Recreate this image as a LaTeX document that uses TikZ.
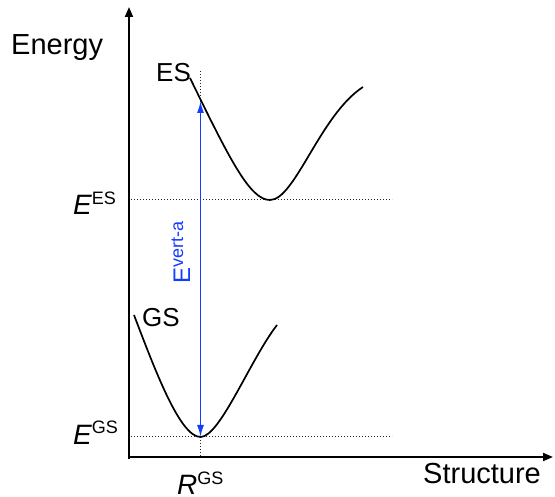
\documentclass[tikz,border=0pt]{standalone}
\usepackage{fontspec}
\setmainfont{Liberation Sans}
\usetikzlibrary{arrows.meta}
\definecolor{vblue}{RGB}{20,60,255}
\begin{document}
\begin{tikzpicture}[x=1pt,y=-1pt,
  lbl/.style={inner sep=0pt,anchor=base west,font=\fontsize{29}{34}\selectfont},
  slbl/.style={inner sep=0pt,anchor=base west,font=\fontsize{26}{30}\selectfont},
  axisline/.style={line width=1.9pt,-{Triangle[length=10pt,width=8pt]}},
  pes/.style={line width=1.7pt},
  guide/.style={line width=1pt,dash pattern=on 1pt off 2pt,black!85},
  vert/.style={line width=1.6pt,vblue,{Latex[length=12pt,width=7pt]}-{Latex[length=12pt,width=7pt]}}]
\useasboundingbox (0,0) rectangle (555,497);
% coordinates
\coordinate (O) at (129,458);
\coordinate (ytop) at (129,7);
\coordinate (xend) at (553,457);
\coordinate (esL) at (190,78);
\coordinate (esMin) at (270,200);
\coordinate (esR) at (363,87);
\coordinate (gsL) at (134,315);
\coordinate (gsMin) at (200.5,437);
\coordinate (gsR) at (277,325);
\coordinate (vTop) at (200.5,71);
\coordinate (vUp) at (200.5,101);
\coordinate (vBot) at (200.5,457);
\coordinate (esDotL) at (131,200);
\coordinate (esDotR) at (392,200);
\coordinate (gsDotL) at (131,437);
\coordinate (gsDotR) at (392,437);
% guides
\draw[guide] (esDotL) -- (esDotR);
\draw[guide] (gsDotL) -- (gsDotR);
\draw[guide] (vTop) -- (vBot);
% axes
\draw[axisline] (O |- 0,459) -- (ytop);
\draw[axisline] (O |- xend) -- (xend);
% curves
\draw[pes] (esL) .. controls (230,160) and (250,200) .. (esMin)
  .. controls (295,200) and (320,115) .. (esR);
\draw[pes] (gsL) .. controls (155,370) and (180,437) .. (gsMin)
  .. controls (220,437) and (250,360) .. (gsR);
% vertical excitation
\draw[vert] (gsMin) -- (vUp);
% labels
\node[lbl] (energy) at (11,55) {Energy};
\node[lbl] (structure) at (423,483) {Structure};
\node[slbl] (es) at (156,82) {ES};
\node[slbl] (gs) at (142,327) {GS};
\node[inner sep=0pt,anchor=base west] (ees) at (73,215)
  {\fontsize{28}{32}\selectfont\itshape E\upshape\raisebox{10pt}{\fontsize{18}{20}\selectfont ES}};
\node[inner sep=0pt,anchor=base west] (egs) at (73,444)
  {\fontsize{28}{32}\selectfont\itshape E\upshape\raisebox{10pt}{\fontsize{18}{20}\selectfont GS}};
\node[inner sep=0pt,anchor=base west] (rgs) at (177,494)
  {\fontsize{28}{32}\selectfont\itshape R\upshape\raisebox{10pt}{\fontsize{18}{20}\selectfont GS}};
\node[inner sep=0pt,anchor=base west,rotate=90,text=vblue] (evert) at (190,284)
  {\fontsize{24}{26}\selectfont E\raisebox{7pt}{\fontsize{18}{20}\selectfont vert-a}};
\end{tikzpicture}
\end{document}
